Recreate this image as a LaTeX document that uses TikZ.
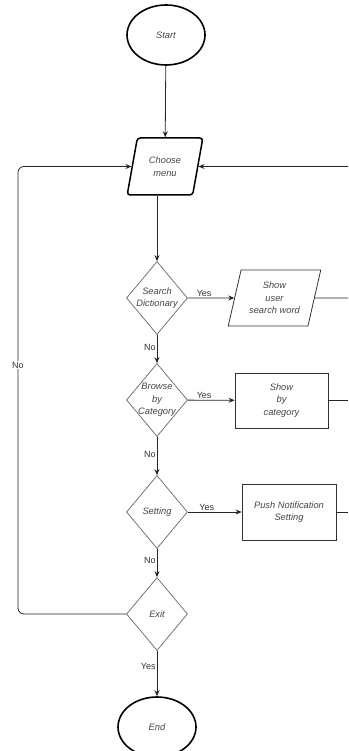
\documentclass[tikz,border=0pt]{standalone}
\usepackage{fontspec}
\setmainfont{Liberation Sans}
\usetikzlibrary{shapes.geometric,arrows.meta}
\definecolor{txt}{HTML}{444444}
\definecolor{lab}{HTML}{333333}
\definecolor{dia}{HTML}{666666}
\begin{document}
\begin{tikzpicture}[x=1pt,y=-1pt,
  every node/.style={font=\fontsize{9.3}{12.5}\selectfont\itshape, text=txt, align=center},
  term/.style={ellipse, draw=black, line width=1.6pt, minimum width=78pt, minimum height=60pt, inner sep=0pt},
  io/.style={trapezium, trapezium left angle=73, trapezium right angle=107, trapezium stretches=true, draw=black, inner sep=0pt},
  dec/.style={diamond, draw=dia, line width=0.7pt, minimum width=61pt, minimum height=73pt, inner sep=-8pt},
  proc/.style={rectangle, draw=lab, line width=0.8pt, inner sep=0pt},
  flow/.style={draw=black!85, line width=0.8pt, -{Stealth[length=6pt,width=5pt]}},
  plain/.style={draw=black!85, line width=0.8pt},
  lbl/.style={font=\fontsize{9}{11}\selectfont, text=lab, inner sep=1pt}
]
\useasboundingbox (0,0) rectangle (348,751);
\clip (0,0) rectangle (348,751);

\node[term] (st) at (166,35) {Start};
\node[io, line width=1.5pt, rounded corners=3pt, minimum width=76pt, minimum height=57pt] (cm) at (165,166.5) {Choose\\menu};
\node[dec] (ds) at (157,298) {Search\\Dictionary};
\node[io, line width=0.8pt, draw=lab, minimum width=93pt, minimum height=56pt] (sw) at (274.5,298) {Show\\user\\search word};
\node[dec] (db) at (157,400) {Browse\\by\\Category};
\node[proc, minimum width=93pt, minimum height=55pt] (bc) at (281.5,400.5) {Show\\by\\category};
\node[dec] (dset) at (157,512) {Setting};
\node[proc, minimum width=94pt, minimum height=56pt] (pn) at (289,512) {Push Notification\\Setting};
\node[dec] (dex) at (157,614) {Exit};
\node[term] (en) at (157,727) {End};

\coordinate (r0) at (348,166.5);
\coordinate (r1) at (348,298);
\coordinate (r2) at (348,400.5);
\coordinate (r3) at (348,512);
\coordinate (lc) at (18,166.5);

\draw[flow] (st) -- (cm);
\draw[flow] (cm.south -| ds.north) -- (ds.north);
\draw[flow] (ds) -- node[lbl, pos=0.35, above] {Yes} (sw);
\draw[flow] (ds) -- node[lbl, pos=0.45, left] {No} (db);
\draw[flow] (db) -- node[lbl, pos=0.35, above] {Yes} (bc);
\draw[flow] (db) -- node[lbl, pos=0.45, left] {No} (dset);
\draw[flow] (dset) -- node[lbl, pos=0.35, above] {Yes} (pn);
\draw[flow] (dset) -- node[lbl, pos=0.4, left] {No} (dex);
\draw[flow] (dex) -- node[lbl, pos=0.35, left] {Yes} (en);
\draw[flow, rounded corners=6pt] (dex.west) -| (lc) -- (cm.west);
\node[lbl, fill=white] (nolab) at (18,365) {No};
\draw[plain] (sw.east) -- (r1);
\draw[plain] (bc.east) -- (r2);
\draw[plain] (pn.east) -- (r3);
\draw[flow] (r0) -- (cm.east);
\end{tikzpicture}
\end{document}
